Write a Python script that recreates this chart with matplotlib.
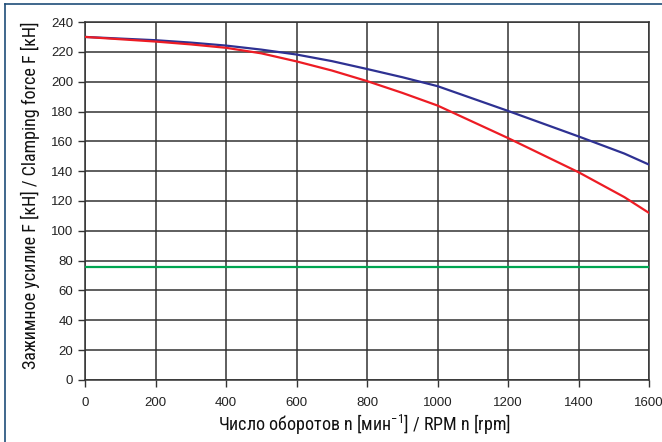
import matplotlib
matplotlib.use("Agg")
import matplotlib.pyplot as plt
from matplotlib.lines import Line2D

# Clamping force vs. rotational speed
rpm_blue = [0, 200, 300, 400, 500, 600, 700, 800, 900, 1000, 1200, 1400, 1530, 1600]
force_blue = [230, 227.8, 226.2, 224.2, 221.5, 218.2, 213.8, 208.5, 203.0, 197.0, 180.4, 163.3, 151.8, 144.4]

rpm_red = [0, 200, 300, 400, 500, 600, 700, 800, 900, 1000, 1200, 1400, 1530, 1600]
force_red = [230, 226.9, 225.0, 222.7, 219.0, 213.6, 207.5, 200.4, 192.5, 184.0, 162.2, 139.3, 122.6, 112.0]

rpm_green = [0, 1600]
force_green = [76, 76]

x_ticks = [0, 200, 400, 600, 800, 1000, 1200, 1400, 1600]
y_ticks = list(range(0, 241, 20))

fig = plt.figure(figsize=(6.62, 4.42), dpi=100)
ax = fig.add_axes([0.1284, 0.1403, 0.852, 0.8099])

ax.plot(rpm_green, force_green, color="#00a651", lw=1.6, zorder=3)
ax.plot(rpm_blue, force_blue, color="#2e3192", lw=1.6, zorder=4)
ax.plot(rpm_red, force_red, color="#ed1c24", lw=1.6, zorder=5)

ax.set_xlim(0, 1600)
ax.set_ylim(0, 240)
ax.set_xticks(x_ticks)
ax.set_yticks(y_ticks)
ax.grid(True, color="#333333", lw=1.1)
ax.set_axisbelow(True)
for s in ax.spines.values():
    s.set_color("#333333")
    s.set_linewidth(1.1)
ax.tick_params(axis="both", colors="#333333", labelcolor="#222222",
               labelsize=9.5, length=5, width=1)
for lab in ax.get_xticklabels() + ax.get_yticklabels():
    lab.set_family("Liberation Sans")
ax.tick_params(axis="x", pad=7)

label_font = dict(family="Roboto Condensed", size=13, weight="normal", color="#111111")
fig.text(0.551, 0.038, "Число оборотов n [мин$^{\\mathregular{-1}}$] / RPM n [rpm]",
         ha="center", va="center", **label_font)
fig.text(0.046, 0.559, "Зажимное усилие F [кН] / Clamping force F [кН]",
         ha="center", va="center", rotation=90, **label_font)

# frame lines along top and left edges
fig.add_artist(Line2D([0.0075, 1.0], [0.992, 0.992], transform=fig.transFigure,
                      color="#1f4e79", lw=1.2))
fig.add_artist(Line2D([0.0075, 0.0075], [0.0, 0.992], transform=fig.transFigure,
                      color="#1f4e79", lw=1.2))

fig.savefig("out.png", dpi=100)
